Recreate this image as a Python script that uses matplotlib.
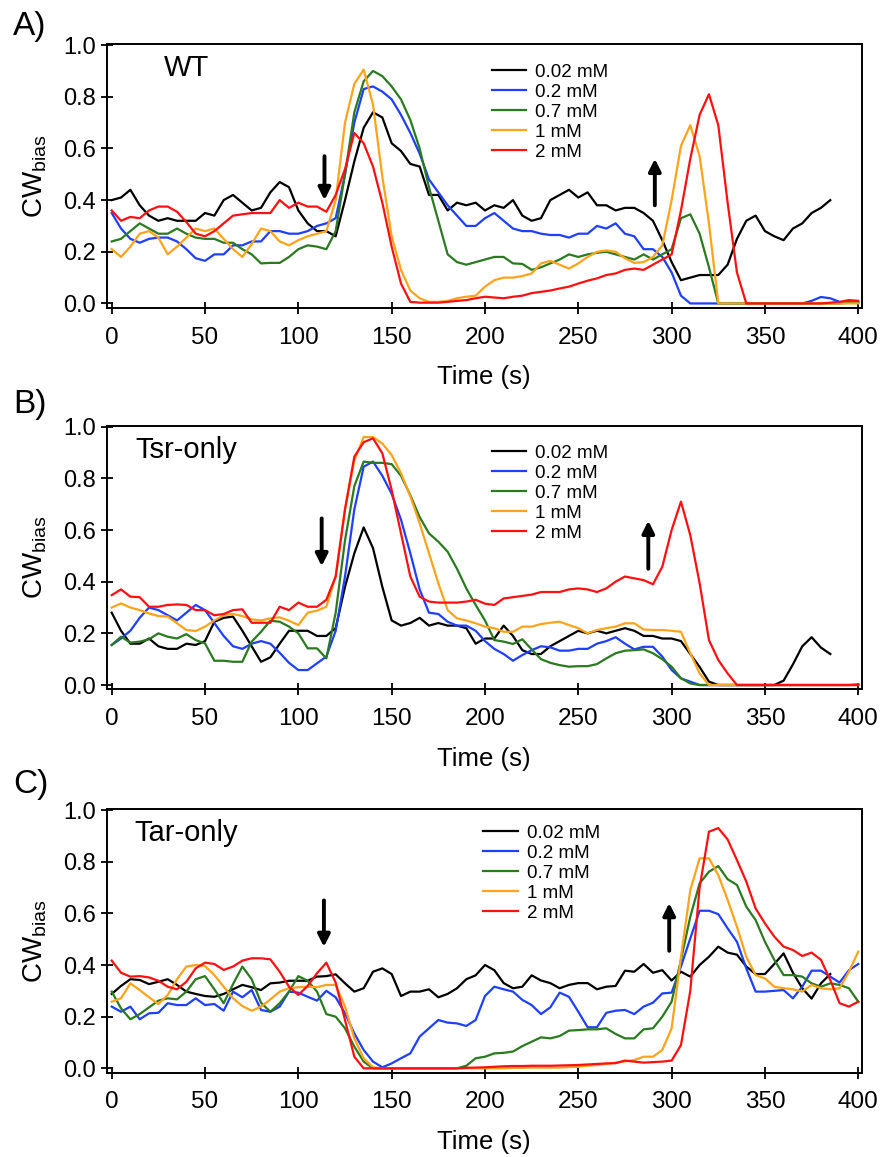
import numpy as np
import matplotlib
matplotlib.use("Agg")
import matplotlib.pyplot as plt

plt.rcParams['font.family'] = ['Liberation Sans', 'DejaVu Sans']
plt.rcParams['mathtext.fontset'] = 'custom'
plt.rcParams['mathtext.rm'] = 'Liberation Sans'

# time grid, one sample every 5 s
time = np.arange(0, 405, 5)

labels = ['0.02 mM', '0.2 mM', '0.7 mM', '1 mM', '2 mM']
colors = ['#000000', '#1f3fff', '#2a7a1f', '#ffa31a', '#ff1010']
strains = ['WT', 'Tsr-only', 'Tar-only']
panel_tags = ['A)', 'B)', 'C)']

# ---- A) WT ----
wt_002 = [.40, .41, .44, .38, .34, .32, .33, .32, .32, .32,
          .35, .34, .40, .42, .39, .36, .37, .43, .47, .45,
          .36, .31, .28, .28, .26, .40, .55, .68, .74, .72,
          .62, .59, .54, .53, .42, .42, .36, .39, .38, .39,
          .36, .38, .37, .40, .34, .32, .33, .40, .42, .44,
          .41, .43, .38, .38, .36, .37, .37, .35, .32, .245,
          .16, .09, .10, .11, .11, .11, .15, .25, .32, .34,
          .28, .26, .245, .29, .31, .35, .37, .40]
wt_02 = [.35, .29, .25, .235, .25, .255, .255, .24, .21, .175,
         .165, .19, .19, .225, .225, .24, .24, .28, .28, .27,
         .27, .28, .30, .31, .33, .50, .70, .83, .84, .82,
         .79, .73, .66, .58, .48, .43, .38, .34, .30, .30,
         .33, .35, .32, .29, .28, .28, .27, .265, .265, .255,
         .27, .27, .30, .29, .31, .27, .26, .21, .21, .18,
         .12, .03, 0, 0, 0, 0, 0, 0, 0, 0,
         0, 0, 0, 0, 0, .01, .025, .02, .006, .005,
         .003]
wt_07 = [.24, .25, .28, .31, .29, .27, .27, .29, .27, .255,
         .25, .25, .235, .235, .21, .19, .155, .157, .157, .18,
         .21, .225, .22, .21, .28, .50, .74, .86, .90, .88,
         .84, .79, .71, .60, .45, .32, .19, .16, .15, .16,
         .17, .18, .18, .155, .153, .13, .14, .155, .17, .19,
         .18, .19, .196, .20, .19, .18, .17, .19, .17, .19,
         .21, .33, .345, .27, .14, 0, 0, 0, 0, 0,
         0, 0, 0, 0, 0, 0, 0, 0, 0, .003,
         .005]
wt_1 = [.21, .18, .22, .27, .28, .255, .19, .22, .255, .29,
        .28, .29, .25, .21, .18, .23, .29, .28, .24, .225,
        .245, .26, .27, .28, .40, .70, .85, .905, .77, .49,
        .26, .13, .05, .02, .006, .006, .01, .02, .026, .03,
        .065, .09, .10, .10, .106, .116, .155, .165, .15, .135,
        .155, .18, .20, .205, .20, .175, .157, .16, .18, .225,
        .40, .61, .69, .57, .31, 0, 0, 0, 0, 0,
        0, 0, 0, 0, 0, 0, 0, 0, 0, 0,
        0]
wt_2 = [.36, .32, .335, .33, .36, .375, .375, .355, .315, .27,
        .26, .28, .31, .34, .345, .35, .35, .35, .40, .37,
        .39, .375, .375, .355, .42, .52, .66, .62, .53, .39,
        .22, .077, .006, .003, .003, .003, .006, .01, .013, .02,
        .026, .023, .02, .026, .03, .04, .045, .05, .058, .065,
        .077, .088, .097, .11, .116, .13, .135, .13, .15, .17,
        .19, .36, .56, .73, .81, .69, .39, .12, 0, 0,
        0, 0, 0, 0, 0, 0, 0, .003, .006, .013,
        .01]

# ---- B) Tsr-only ----
tsr_002 = [.28, .21, .16, .16, .18, .15, .14, .14, .16, .155,
           .17, .245, .26, .265, .21, .15, .09, .107, .16, .21,
           .21, .21, .19, .19, .22, .38, .51, .61, .53, .38,
           .25, .23, .24, .26, .23, .24, .23, .23, .22, .16,
           .18, .18, .23, .19, .135, .12, .12, .15, .17, .19,
           .21, .20, .21, .20, .21, .22, .21, .19, .19, .18,
           .18, .17, .12, .07, .013, 0, 0, 0, 0, 0,
           0, 0, .017, .08, .15, .185, .145, .12]
tsr_02 = [.155, .18, .21, .26, .30, .29, .27, .25, .28, .31,
          .29, .24, .19, .15, .14, .16, .17, .16, .125, .086,
          .058, .058, .084, .11, .21, .42, .68, .845, .865, .81,
          .74, .64, .51, .37, .28, .275, .245, .23, .23, .21,
          .17, .14, .12, .094, .116, .135, .15, .146, .133, .133,
          .14, .14, .16, .17, .185, .16, .138, .148, .148, .11,
          .058, .026, .013, 0, 0, 0, 0, 0, 0, 0,
          0, 0, 0, 0, 0, 0, 0, 0, 0, 0,
          0]
tsr_07 = [.155, .187, .164, .168, .177, .20, .187, .18, .197, .174,
          .161, .094, .094, .09, .09, .168, .206, .249, .245, .226,
          .20, .142, .142, .103, .28, .56, .77, .865, .86, .86,
          .855, .81, .735, .65, .587, .555, .516, .45, .374, .31,
          .25, .174, .168, .159, .177, .138, .10, .086, .077, .071,
          .073, .073, .081, .103, .123, .133, .135, .138, .123, .10,
          .071, .026, .006, 0, 0, 0, 0, 0, 0, 0,
          0, 0, 0, 0, 0, 0, 0, 0, 0, 0,
          .003]
tsr_1 = [.30, .316, .30, .29, .277, .267, .265, .239, .213, .209,
         .226, .25, .27, .275, .267, .254, .25, .258, .262, .249,
         .232, .28, .288, .303, .42, .68, .87, .96, .96, .935,
         .89, .82, .73, .626, .51, .394, .29, .258, .25, .239,
         .226, .22, .206, .206, .226, .226, .236, .241, .245, .232,
         .22, .20, .213, .22, .226, .239, .239, .215, .213, .213,
         .21, .206, .123, .045, 0, 0, 0, 0, 0, 0,
         0, 0, 0, 0, 0, 0, 0, 0, 0, 0,
         0]
tsr_2 = [.348, .37, .342, .34, .303, .303, .31, .312, .31, .29,
         .29, .27, .275, .29, .293, .241, .241, .241, .303, .29,
         .319, .303, .303, .33, .42, .68, .884, .94, .955, .897,
         .755, .587, .42, .342, .323, .319, .319, .319, .323, .33,
         .315, .31, .335, .34, .345, .35, .36, .36, .36, .37,
         .374, .37, .36, .374, .40, .42, .413, .406, .39, .458,
         .60, .71, .58, .394, .174, .097, .045, 0, 0, 0,
         0, 0, 0, 0, 0, 0, 0, 0, 0, 0,
         0]

# ---- C) Tar-only ----
tar_002 = [.288, .319, .345, .342, .326, .335, .345, .323, .297, .288,
           .28, .277, .288, .306, .323, .314, .303, .329, .332, .339,
           .339, .339, .355, .357, .364, .329, .297, .31, .374, .387,
           .365, .28, .297, .297, .306, .275, .288, .31, .345, .36,
           .40, .38, .33, .31, .316, .36, .34, .33, .31, .323,
           .33, .33, .306, .316, .319, .378, .374, .404, .37, .38,
           .34, .374, .355, .40, .432, .471, .448, .44, .394, .365,
           .365, .404, .445, .37, .31, .27, .329, .365]
tar_02 = [.239, .219, .239, .19, .213, .215, .252, .245, .245, .271,
          .245, .249, .223, .297, .275, .303, .226, .219, .239, .297,
          .293, .277, .262, .30, .275, .213, .135, .071, .026, .004,
          .019, .039, .058, .123, .155, .187, .177, .174, .164, .187,
          .28, .316, .306, .297, .265, .245, .21, .236, .293, .277,
          .219, .159, .159, .215, .223, .226, .21, .239, .254, .29,
          .293, .394, .503, .61, .61, .597, .542, .49, .387, .297,
          .297, .30, .303, .271, .316, .378, .378, .355, .332, .38,
          .404]
tar_07 = [.297, .232, .19, .21, .236, .262, .271, .267, .297, .345,
          .357, .306, .252, .326, .394, .345, .254, .219, .252, .297,
          .357, .339, .297, .21, .20, .155, .084, .026, 0, 0,
          0, 0, 0, 0, 0, 0, 0, 0, .01, .039,
          .045, .058, .06, .065, .086, .103, .12, .116, .125, .146,
          .148, .151, .151, .155, .133, .116, .116, .151, .155, .20,
          .258, .42, .587, .716, .761, .783, .732, .71, .626, .574,
          .49, .42, .361, .361, .355, .329, .316, .329, .323, .31,
          .258]
tar_1 = [.258, .271, .329, .303, .275, .249, .284, .345, .394, .40,
         .396, .361, .316, .271, .241, .223, .239, .267, .297, .31,
         .314, .316, .314, .323, .323, .239, .116, .039, .004, 0,
         0, 0, 0, 0, 0, 0, 0, 0, 0, 0,
         0, 0, 0, .002, .002, .003, .003, .003, .003, .005,
         .006, .01, .013, .017, .022, .027, .032, .045, .045, .071,
         .155, .43, .69, .813, .813, .748, .652, .548, .432, .361,
         .348, .316, .31, .306, .297, .323, .31, .306, .31, .374,
         .452]
tar_2 = [.417, .37, .355, .357, .352, .339, .316, .306, .335, .387,
         .409, .404, .381, .394, .417, .426, .426, .422, .374, .316,
         .284, .319, .368, .409, .332, .187, .045, 0, 0, 0,
         0, 0, 0, 0, 0, 0, 0, 0, .002, .003,
         .004, .006, .008, .009, .009, .01, .01, .01, .011, .012,
         .013, .015, .017, .019, .02, .03, .026, .022, .024, .026,
         .03, .09, .30, .70, .916, .93, .886, .806, .723, .619,
         .561, .51, .471, .458, .435, .448, .42, .342, .252, .239,
         .258]

panels = [
    [wt_002, wt_02, wt_07, wt_1, wt_2],
    [tsr_002, tsr_02, tsr_07, tsr_1, tsr_2],
    [tar_002, tar_02, tar_07, tar_1, tar_2],
]

# stimulus arrows: (time, y_top, y_bottom) for addition (down) and removal (up)
down_arrows = [(114, 0.57, 0.40), (112.5, 0.645, 0.46), (113.7, 0.65, 0.47)]
up_arrows = [(291, 0.38, 0.56), (287.5, 0.45, 0.636), (298.7, 0.455, 0.64)]
legend_pos = [(0.51, 0.925), (0.51, 0.928), (0.499, 0.94)]

fig = plt.figure(figsize=(8.83, 11.57), dpi=100)
bottoms = [0.734, 0.4042, 0.0729]
tag_y = [1 - 27 / 1157, 1 - 405 / 1157, 1 - 785 / 1157]

for i in range(3):
    ax = fig.add_axes([0.1208, bottoms[i], 0.855, 0.2279])
    for series, lab, col in zip(panels[i], labels, colors):
        ax.plot(time[:len(series)], series, color=col, lw=1.6, label=lab)

    ax.set_xlim(-2.7, 401.8)
    ax.set_ylim(-0.0167, 1.004)
    ax.set_xticks(np.arange(0, 401, 50))
    ax.set_yticks(np.arange(0, 1.01, 0.2))
    ax.set_yticklabels(['%.1f' % v for v in np.arange(0, 1.01, 0.2)])
    ax.tick_params(direction='inout', length=9, width=1.3)
    ax.tick_params(axis='x', labelsize=17.5, pad=9)
    ax.tick_params(axis='y', labelsize=17, pad=3)
    for sp in ax.spines.values():
        sp.set_linewidth(1.4)

    ax.set_xlabel('Time (s)', fontsize=18.5, labelpad=12)
    ax.set_ylabel(r'CW$_{\mathregular{bias}}$', fontsize=20, labelpad=10)

    ax.text(40, 0.91, strains[i], fontsize=21, ha='center', va='center')

    ax.legend(loc='upper left', bbox_to_anchor=legend_pos[i], frameon=False,
              fontsize=13.5, borderpad=0, borderaxespad=0, handlelength=1.85,
              handletextpad=0.45, labelspacing=0.15)

    t0, ytop, ybot = down_arrows[i]
    ax.annotate('', xy=(t0, ybot), xytext=(t0, ytop),
                arrowprops=dict(arrowstyle='-|>', lw=2.8, color='k', mutation_scale=18,
                                shrinkA=0, shrinkB=0))
    t1, ybot, ytop = up_arrows[i]
    ax.annotate('', xy=(t1, ytop), xytext=(t1, ybot),
                arrowprops=dict(arrowstyle='-|>', lw=2.8, color='k', mutation_scale=18,
                                shrinkA=0, shrinkB=0))

    fig.text(13 / 883, tag_y[i], panel_tags[i], fontsize=24, ha='left', va='center')

fig.savefig('out.png', dpi=100)
